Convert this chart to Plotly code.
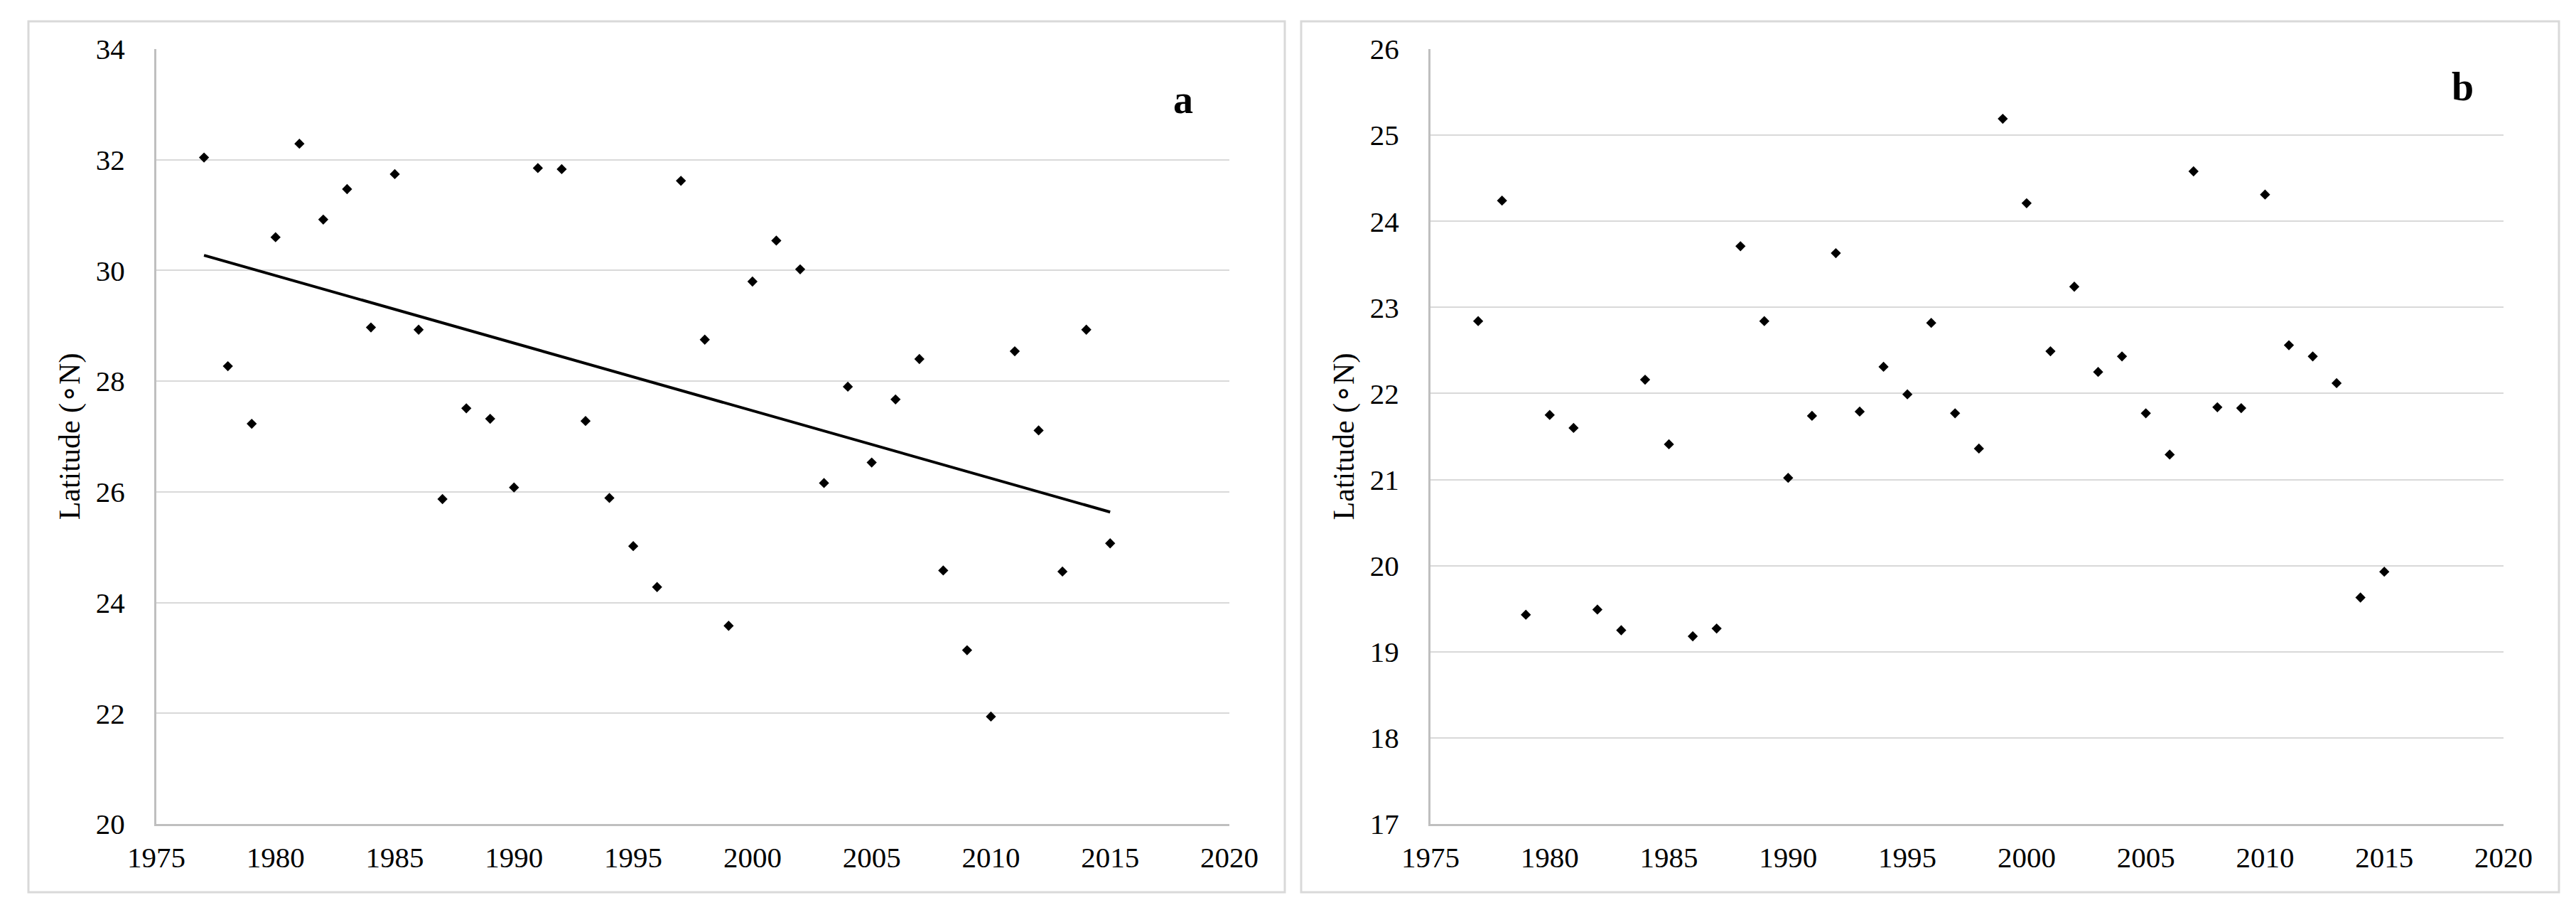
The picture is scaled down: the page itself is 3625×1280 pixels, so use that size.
import numpy as np
import plotly.graph_objects as go

years = list(range(1977, 2016))
lat_a = [32.04, 28.27, 27.23, 30.60, 32.29, 30.92, 31.47, 28.97, 31.74, 28.93,
         25.87, 27.51, 27.32, 26.08, 31.85, 31.83, 27.28, 25.89, 25.02, 24.28,
         31.62, 28.75, 23.58, 29.80, 30.54, 30.02, 26.16, 27.90, 26.53, 27.67,
         28.40, 24.58, 23.14, 21.94, 28.54, 27.11, 24.56, 28.93, 25.07]
lat_b = [22.84, 24.24, 19.43, 21.75, 21.60, 19.49, 19.25, 22.16, 21.41, 19.18,
         19.27, 23.71, 22.84, 21.02, 21.74, 23.63, 21.79, 22.31, 21.99, 22.82,
         21.77, 21.36, 25.19, 24.21, 22.49, 23.24, 22.25, 22.43, 21.77, 21.29,
         24.58, 21.84, 21.83, 24.31, 22.56, 22.43, 22.12, 19.63, 19.93]
x_ticks = [1975, 1980, 1985, 1990, 1995, 2000, 2005, 2010, 2015, 2020]
y_ticks_a = [20, 22, 24, 26, 28, 30, 32, 34]
y_ticks_b = [17, 18, 19, 20, 21, 22, 23, 24, 25, 26]
y_title = "Latitude (\u2218N)"
panel_labels = ["a", "b"]

W, H = 3625, 1280
FONT = "Liberation Serif, Times New Roman, serif"

# linear trend for panel a
coef = np.polyfit(years, lat_a, 1)
trend_x = [years[0], years[-1]]
trend_y = list(np.polyval(coef, trend_x))

fig = go.Figure()
fig.add_trace(go.Scatter(x=years, y=lat_a, mode="markers",
                         marker=dict(symbol="diamond", size=11, color="black"),
                         xaxis="x", yaxis="y", showlegend=False))
fig.add_trace(go.Scatter(x=trend_x, y=trend_y, mode="lines",
                         line=dict(color="black", width=4),
                         xaxis="x", yaxis="y", showlegend=False))
fig.add_trace(go.Scatter(x=years, y=lat_b, mode="markers",
                         marker=dict(symbol="diamond", size=11, color="black"),
                         xaxis="x2", yaxis="y2", showlegend=False))

ytop = 1 - 61 / H
ybot = 1 - 1151 / H

axis_common = dict(showline=True, linecolor="#bfbfbf", linewidth=3,
                   tickfont=dict(family=FONT, size=41, color="black"),
                   ticks="", zeroline=False, automargin=False)

fig.update_layout(
    width=W, height=H,
    margin=dict(l=0, r=0, t=0, b=0, pad=0, autoexpand=False),
    paper_bgcolor="white", plot_bgcolor="white",
    xaxis=dict(domain=[212 / W, 1722 / W], range=[1975, 2020], tickvals=x_ticks,
               showgrid=False, anchor="y", ticklabelstandoff=9, **axis_common),
    yaxis=dict(domain=[ybot, ytop], range=[20, 34], tickvals=y_ticks_a,
               showgrid=True, gridcolor="#d9d9d9", gridwidth=2, anchor="x",
               ticklabelstandoff=33,
               title=dict(text=y_title, font=dict(family=FONT, size=42, color="black"),
                          standoff=10),
               **axis_common),
    xaxis2=dict(domain=[2005 / W, 3515 / W], range=[1975, 2020], tickvals=x_ticks,
                showgrid=False, anchor="y2", ticklabelstandoff=9, **axis_common),
    yaxis2=dict(domain=[ybot, ytop], range=[17, 26], tickvals=y_ticks_b,
                showgrid=True, gridcolor="#d9d9d9", gridwidth=2, anchor="x2",
                ticklabelstandoff=33,
                title=dict(text=y_title, font=dict(family=FONT, size=42, color="black"),
                           standoff=10),
                **axis_common),
    shapes=[
        dict(type="rect", xref="paper", yref="paper",
             x0=32 / W, x1=1800 / W, y0=1 - 1247 / H, y1=1 - 22 / H,
             line=dict(color="#d9d9d9", width=3), fillcolor="rgba(0,0,0,0)", layer="below"),
        dict(type="rect", xref="paper", yref="paper",
             x0=1823 / W, x1=3593 / W, y0=1 - 1247 / H, y1=1 - 22 / H,
             line=dict(color="#d9d9d9", width=3), fillcolor="rgba(0,0,0,0)", layer="below"),
    ],
    annotations=[
        dict(text="<b>%s</b>" % panel_labels[0], xref="paper", yref="paper",
             x=1657 / W, y=1 - 132 / H, xanchor="center", yanchor="middle",
             showarrow=False, font=dict(family=FONT, size=56, color="black")),
        dict(text="<b>%s</b>" % panel_labels[1], xref="paper", yref="paper",
             x=3457 / W, y=1 - 114 / H, xanchor="center", yanchor="middle",
             showarrow=False, font=dict(family=FONT, size=56, color="black")),
    ],
)

fig.write_html("out.html")
